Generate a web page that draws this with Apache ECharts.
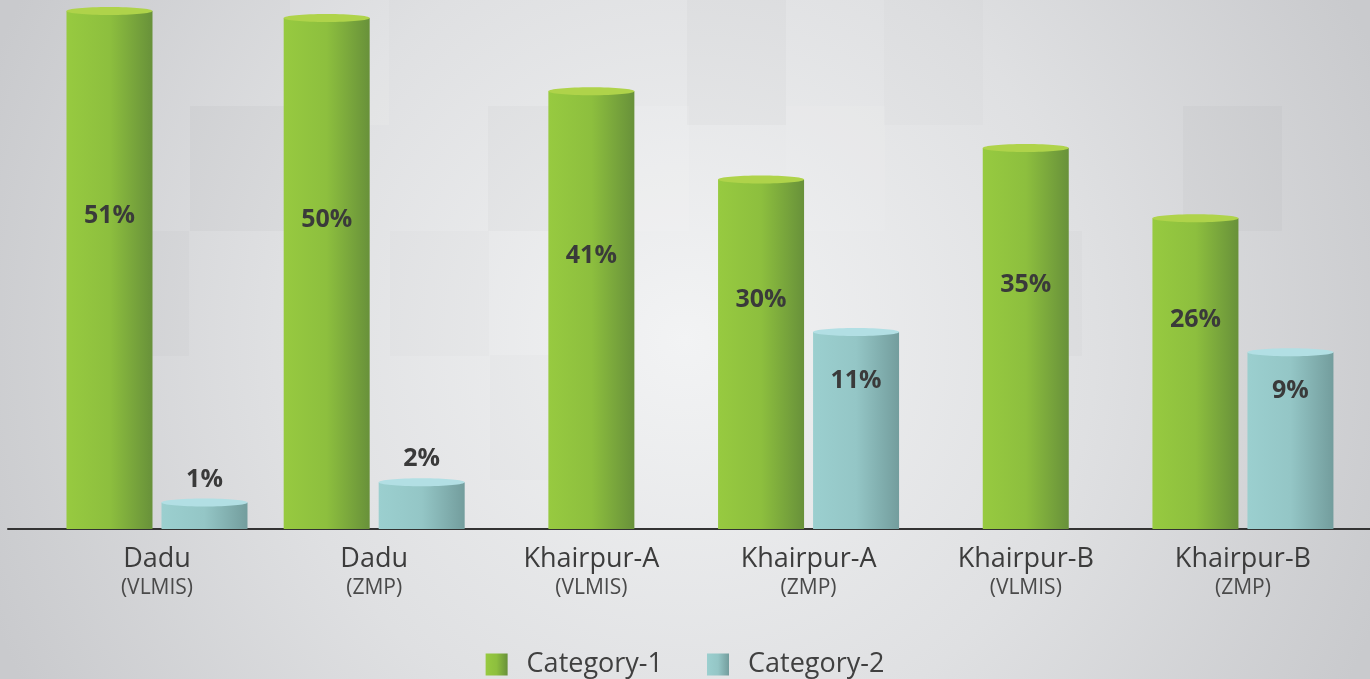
<!DOCTYPE html>
<html>
<head>
<meta charset="utf-8">
<script src="https://cdn.jsdelivr.net/npm/echarts@6/dist/echarts.min.js"></script>
<style>
  html, body { margin: 0; padding: 0; }
  #chart { width: 1370px; height: 679px; }
</style>
</head>
<body>
<div id="chart"></div>
<script>
// categories (district + source)
var districts = ['Dadu', 'Dadu', 'Khairpur-A', 'Khairpur-A', 'Khairpur-B', 'Khairpur-B'];
var sources = ['(VLMIS)', '(ZMP)', '(VLMIS)', '(ZMP)', '(VLMIS)', '(ZMP)'];

// printed percentages
var cat1Pct = [51, 50, 41, 30, 35, 26];
var cat2Pct = [1, 2, null, 11, null, 9];

// drawn cylinder heights as they appear in the picture (same units, 51 = tallest bar)
var cat1Height = [51, 50.3, 43.1, 34.4, 37.5, 30.6];
var cat2Height = [2.6, 4.6, null, 19.4, null, 17.4];

var seriesNames = ['Category-1', 'Category-2'];

var greenSide = new echarts.graphic.LinearGradient(0, 0, 1, 0, [
    {offset: 0, color: '#97ca40'},
    {offset: 0.5, color: '#8dbf3e'},
    {offset: 1, color: '#68913a'}
]);
var cyanSide = new echarts.graphic.LinearGradient(0, 0, 1, 0, [
    {offset: 0, color: '#9bcfcf'},
    {offset: 0.5, color: '#94c6c6'},
    {offset: 1, color: '#739d9d'}
]);
var greenTop = '#afd34a';
var cyanTop = '#b2dfe4';

var BAR_W = 86;
var SHIFT = 47.5;

function makeRender(which) {
    return function (params, api) {
        var i = params.dataIndex;
        var v = api.value(1);
        if (v == null || isNaN(v)) return;
        var hasPair = cat1Height[i] != null && cat2Height[i] != null;
        var off = hasPair ? (which === 0 ? -SHIFT : SHIFT) : 0;
        var top = api.coord([api.value(0), v]);
        var base = api.coord([api.value(0), 0]);
        var cx = top[0] + off;
        var h = base[1] - top[1];
        var pct = which === 0 ? cat1Pct[i] : cat2Pct[i];
        var ty;
        if (h < 100) {
            ty = top[1] - 23;
        } else {
            ty = (top[1] + base[1]) / 2 - (which === 0 ? 54 : 50);
        }
        return {
            type: 'group',
            children: [{
                type: 'rect',
                shape: {x: cx - BAR_W / 2, y: top[1], width: BAR_W, height: h},
                style: {fill: which === 0 ? greenSide : cyanSide}
            }, {
                type: 'ellipse',
                shape: {cx: cx, cy: top[1], rx: BAR_W / 2, ry: 4},
                style: {fill: which === 0 ? greenTop : cyanTop}
            }, {
                type: 'text',
                style: {
                    x: cx, y: ty,
                    text: pct + '%',
                    align: 'center', verticalAlign: 'middle',
                    font: '700 25px "Open Sans", sans-serif',
                    fill: '#3a3a3a'
                }
            }]
        };
    };
}

// faint background tiles
var tiles = [
    [190, 106, 'rgba(0,0,0,0.022)'], [488, 106, 'rgba(0,0,0,0.018)'],
    [687, 0, 'rgba(0,0,0,0.018)'], [884, 0, 'rgba(0,0,0,0.01)'],
    [1183, 106, 'rgba(0,0,0,0.02)'], [983, 231, 'rgba(0,0,0,0.015)'],
    [90, 231, 'rgba(0,0,0,0.015)'], [390, 231, 'rgba(0,0,0,0.01)'],
    [290, 0, 'rgba(255,255,255,0.1)'], [786, 106, 'rgba(255,255,255,0.08)'],
    [590, 106, 'rgba(255,255,255,0.1)'], [490, 355, 'rgba(0,0,0,0.01)']
];
var graphics = [{
    type: 'rect', z: -20, silent: true,
    shape: {x: 0, y: 0, width: 1370, height: 679},
    style: {
        fill: new echarts.graphic.RadialGradient(0.5, 0.5, 1.1, [
            {offset: 0, color: '#f2f3f4'},
            {offset: 0.55, color: '#dfe0e2'},
            {offset: 1, color: '#c9cacd'}
        ])
    }
}];
tiles.forEach(function (t) {
    graphics.push({
        type: 'rect', z: -19, silent: true,
        shape: {x: t[0], y: t[1], width: 99, height: 125},
        style: {fill: t[2]}
    });
});

var chart = echarts.init(document.getElementById('chart'));
chart.setOption({
    animation: false,
    graphic: graphics,
    grid: {left: 8, right: 0, top: 0, bottom: 150, containLabel: false},
    xAxis: {
        type: 'value',
        min: -0.686,
        max: 5.585,
        splitLine: {show: false},
        axisTick: {show: false},
        axisLine: {show: true, onZero: false, lineStyle: {color: '#333', width: 2}},
        axisLabel: {
            customValues: [0, 1, 2, 3, 4, 5],
            margin: 15,
            formatter: function (val) {
                var i = Math.round(val);
                return '{a|' + districts[i] + '}\n{b|' + sources[i] + '}';
            },
            rich: {
                a: {fontFamily: 'Open Sans', fontSize: 27, color: '#3c3c3c', lineHeight: 30},
                b: {fontFamily: 'Open Sans', fontSize: 21, color: '#4a4a4a', lineHeight: 28}
            }
        }
    },
    yAxis: {type: 'value', min: 0, max: 52.08, show: false},
    legend: {
        left: 'center',
        top: 646,
        itemWidth: 22,
        itemHeight: 22,
        itemGap: 44,
        textStyle: {fontFamily: 'Open Sans', fontSize: 27, color: '#404040', padding: [0, 0, 0, 14]},
        data: [
            {name: seriesNames[0], icon: 'rect', itemStyle: {color: greenSide}},
            {name: seriesNames[1], icon: 'rect', itemStyle: {color: cyanSide}}
        ]
    },
    series: [{
        name: seriesNames[0],
        type: 'custom',
        itemStyle: {color: greenSide},
        renderItem: makeRender(0),
        data: cat1Height.map(function (v, i) { return [i, v]; })
    }, {
        name: seriesNames[1],
        type: 'custom',
        itemStyle: {color: cyanSide},
        renderItem: makeRender(1),
        data: cat2Height.map(function (v, i) { return [i, v == null ? '-' : v]; })
    }]
});
</script>
</body>
</html>
